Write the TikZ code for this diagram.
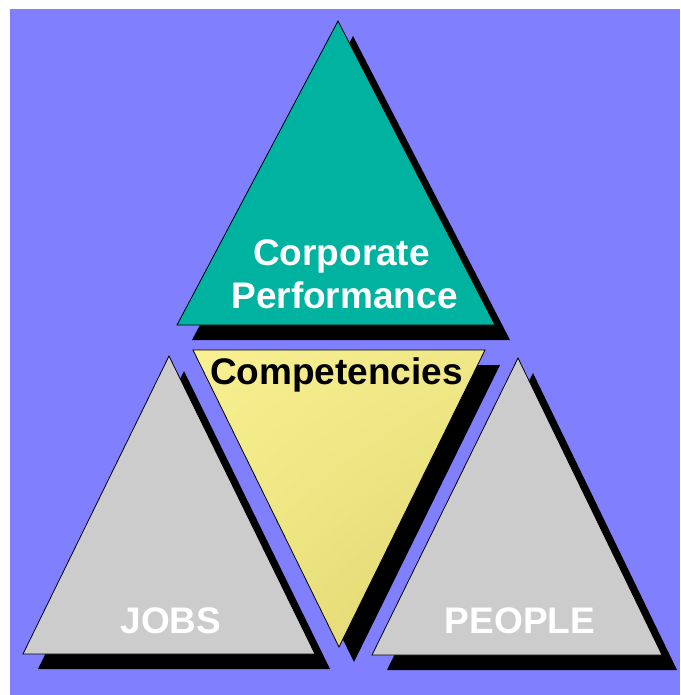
\documentclass[tikz,border=0pt]{standalone}
\usepackage{fontspec}
\usetikzlibrary{shadings}
\setmainfont{Liberation Sans}
\begin{document}
\begin{tikzpicture}[x=1pt,y=-1pt,
  shadowtri/.style={fill=black},
  edge/.style={draw=black,line width=0.8pt,line join=miter},
  label/.style={font=\fontsize{37}{40}\selectfont\bfseries,inner sep=0pt,anchor=base},
  shadow shift/.style={shift={(15,15)}}]
\definecolor{bgblue}{RGB}{128,128,255}
\definecolor{tealfill}{RGB}{0,178,160}
\definecolor{panelgray}{RGB}{204,204,204}
\definecolor{lightyellow}{RGB}{248,240,145}
\definecolor{darkyellow}{RGB}{222,212,110}
\useasboundingbox (0,0) rectangle (680,695);
\fill[white] (0,0) rectangle (680,695);
\fill[bgblue] (10,9) rectangle (680,695);

% top triangle: corporate performance
\fill[shadowtri,shadow shift] (338,21) -- (495,325) -- (177,325) -- cycle;
\fill[tealfill] (338,21) -- (495,325) -- (177,325) -- cycle;
\draw[edge] (338,21) -- (495,325) -- (177,325) -- cycle;

% inverted middle triangle: competencies
\fill[shadowtri,shadow shift] (193,350) -- (485,350) -- (339,647) -- cycle;
\shade[upper left=lightyellow,upper right=lightyellow!70!darkyellow,
       lower left=lightyellow!60!darkyellow,lower right=darkyellow]
  (193,350) -- (485,350) -- (339,647) -- cycle;
\draw[edge] (193,350) -- (485,350) -- (339,647) -- cycle;

% lower left triangle: jobs
\fill[shadowtri,shadow shift] (169,356) -- (315,654) -- (23,654) -- cycle;
\fill[panelgray] (169,356) -- (315,654) -- (23,654) -- cycle;
\draw[edge] (169,356) -- (315,654) -- (23,654) -- cycle;

% lower right triangle: people
\fill[shadowtri,shadow shift] (518,358) -- (662,655) -- (372,655) -- cycle;
\fill[panelgray] (518,358) -- (662,655) -- (372,655) -- cycle;
\draw[edge] (518,358) -- (662,655) -- (372,655) -- cycle;

% labels
\node[label,text=white] (corp) at (341.5,265) {Corporate};
\node[label,text=white] (perf) at (344.5,308) {Performance};
\node[label,text=black] (comp) at (336.5,384) {Competencies};
\node[label,text=white] (jobs) at (171,633) {JOBS};
\node[label,text=white] (people) at (520,633) {PEOPLE};
\end{tikzpicture}
\end{document}
